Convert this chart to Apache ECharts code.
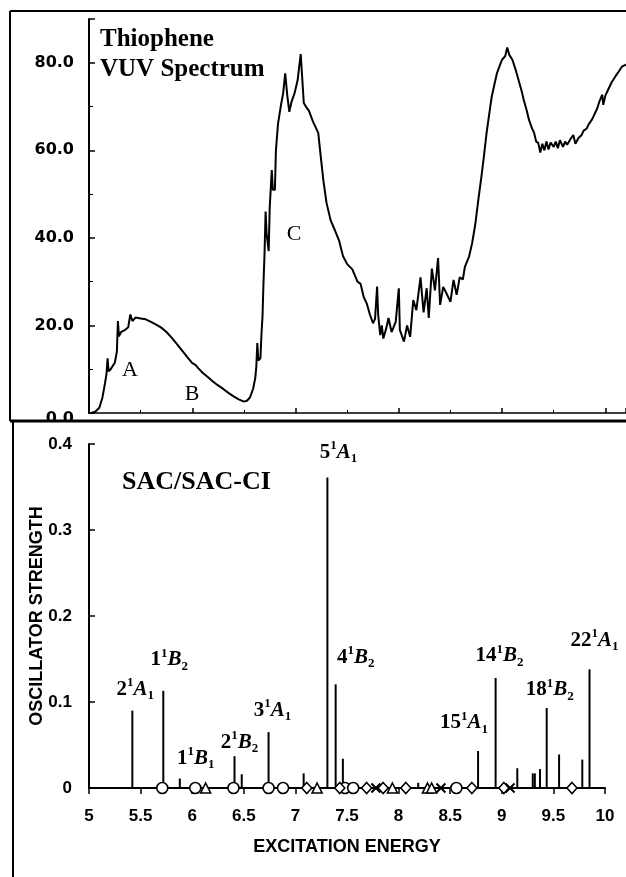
<!DOCTYPE html>
<html>
<head>
<meta charset="utf-8">
<script src="https://cdn.jsdelivr.net/npm/echarts@6.0.0/dist/echarts.min.js"></script>
<style>
  html, body { margin: 0; padding: 0; background: #fff; }
  #chart { width: 626px; height: 877px; }
</style>
</head>
<body>
<div id="chart"></div>
<script>
// VUV absorption spectrum (top panel)
const specE = [5.02, 5.06, 5.10, 5.13, 5.155, 5.17, 5.18, 5.19, 5.21, 5.25, 5.27, 5.28, 5.29, 5.31, 5.35, 5.38, 5.40, 5.42, 5.45, 5.50,
  5.55, 5.60, 5.65, 5.70, 5.75, 5.80, 5.85, 5.90, 5.95, 6.00, 6.03, 6.06, 6.10, 6.15, 6.20, 6.25, 6.30, 6.35, 6.40, 6.45,
  6.50, 6.53, 6.56, 6.59, 6.61, 6.62, 6.63, 6.64, 6.66, 6.67, 6.68, 6.69, 6.70, 6.71, 6.72, 6.74, 6.75, 6.77, 6.78, 6.80,
  6.81, 6.83, 6.86, 6.88, 6.90, 6.92, 6.94, 6.96, 6.99, 7.02, 7.05, 7.08, 7.10, 7.13, 7.17, 7.22, 7.24, 7.27, 7.30, 7.34,
  7.38, 7.42, 7.46, 7.50, 7.55, 7.60, 7.63, 7.66, 7.69, 7.72, 7.75, 7.77, 7.79, 7.80, 7.82, 7.835, 7.85, 7.88, 7.90, 7.93,
  7.97, 8.00, 8.01, 8.05, 8.08, 8.11, 8.14, 8.17, 8.21, 8.24, 8.27, 8.29, 8.32, 8.35, 8.38, 8.40, 8.43, 8.46, 8.50, 8.53,
  8.56, 8.59, 8.62, 8.64, 8.68, 8.71, 8.74, 8.77, 8.80, 8.82, 8.85, 8.88, 8.90, 8.93, 8.95, 8.98, 9.00, 9.03, 9.05, 9.07,
  9.10, 9.13, 9.16, 9.19, 9.21, 9.24, 9.26, 9.29, 9.31, 9.33, 9.35, 9.37, 9.39, 9.41, 9.43, 9.45, 9.47, 9.50, 9.52, 9.54,
  9.56, 9.59, 9.61, 9.63, 9.66, 9.69, 9.71, 9.74, 9.77, 9.79, 9.82, 9.84, 9.87, 9.89, 9.92, 9.94, 9.97, 9.98, 10.00, 10.03,
  10.06, 10.10, 10.13, 10.16, 10.20];
const specV = [0, 0.3, 1.2, 3.5, 6.8, 9, 12.5, 9.5, 10, 11.5, 14, 21, 17.5, 18.5, 19, 19.6, 22.5, 21, 21.8, 21.6,
  21.4, 20.8, 20.2, 19.5, 18.5, 17.2, 15.8, 14.3, 12.8, 11.4, 11, 10.2, 9.2, 8.2, 7.2, 6.3, 5.5, 4.6, 3.8, 3.1,
  2.6, 2.8, 3.6, 5.6, 8, 10.5, 16, 12, 12.5, 18, 22, 30, 36.5, 46, 41, 37, 47, 55.5, 51, 51,
  60, 66, 70.5, 73, 77.6, 72.5, 68.8, 71, 73, 76, 82, 70.8, 70, 69, 66.5, 64, 59.5, 53, 48, 44,
  41.8, 39.5, 35.8, 34, 32.8, 30, 29.5, 26.5, 25, 22.5, 20.5, 21.5, 28.9, 22.5, 17.8, 20, 17, 19.5, 21.7, 18.5,
  20.8, 28.5, 19, 16.3, 20, 17.4, 25.8, 23.5, 31, 23, 28.5, 21.7, 33, 28, 35.4, 24.7, 28.8, 27.4, 25.4, 30.4,
  27, 31, 30.5, 33.4, 35.7, 38.8, 43, 48.7, 54, 57.8, 64, 69, 72.3, 75.5, 77.6, 79.5, 80.7, 81.5, 83.5, 81.8,
  80.7, 78.5, 76, 73.5, 71.5, 69, 67, 65, 64, 62, 61.7, 59.5, 61.5, 60, 62, 60.2, 61.8, 60.8, 62, 60.5,
  62.3, 60.8, 62, 61.3, 62.5, 63.5, 61.5, 62.8, 63.5, 64.5, 65, 66, 67, 68, 69.5, 71, 72.7, 70.4, 72.5, 74,
  75.5, 77, 78, 79.1, 79.6];

// SAC/SAC-CI oscillator strengths (bottom panel)
const stickE = [5.42, 5.72, 5.88, 6.41, 6.48, 6.74, 7.08, 7.31, 7.39, 7.46, 8.19, 8.77, 8.94, 9.15, 9.30, 9.32, 9.37, 9.435, 9.555, 9.78, 9.85];
const stickF = [0.090, 0.113, 0.011, 0.037, 0.016, 0.065, 0.017, 0.361, 0.1205, 0.034, 0.006, 0.043, 0.128, 0.023, 0.017, 0.017, 0.022, 0.093, 0.039, 0.033, 0.138];

// forbidden / zero-strength states on the baseline
const circleE = [5.71, 6.03, 6.40, 6.74, 6.88, 7.48, 7.56, 8.56];
const triangleE = [6.13, 7.21, 7.94, 8.28, 8.32];
const diamondE = [7.11, 7.43, 7.69, 7.85, 8.07, 8.71, 9.02, 9.68];
const crossE = [7.78, 8.41, 9.08];

// state labels: n^1 X_sub, attached to a stick
const stateNum = ['2', '1', '1', '2', '3', '5', '4', '15', '14', '18', '22'];
const stateSym = ['A', 'B', 'B', 'B', 'A', 'A', 'B', 'A', 'B', 'B', 'A'];
const stateSub = ['1', '2', '1', '2', '1', '1', '2', '1', '2', '2', '1'];
const stateStick = [0, 1, 2, 3, 5, 7, 8, 11, 12, 17, 20];

const serif = 'Liberation Serif';
const sans = 'Liberation Sans';

const myChart = echarts.init(document.getElementById('chart'), null, { renderer: 'canvas' });

// label placement (px from stick top), layout only
const labelShift = [[3, -21], [6, -31], [16, -20], [5, -14], [4, -22], [11, -25], [20, -27], [-14, -28], [4, -22], [3, -18], [5, -29]];

const labelData = stateStick.map(function (k, i) {
  return {
    value: [stickE[k], stickF[k]],
    label: {
      offset: labelShift[i],
      formatter: '{n|' + stateNum[i] + '}{s|1}{l|' + stateSym[i] + '}{b|' + stateSub[i] + '}'
    }
  };
});

const toXY = function (arr) {
  return arr.map(function (e) { return [e, 0]; });
};

const markerStyle = { color: '#fff', borderColor: '#000', borderWidth: 1.6, opacity: 1 };

const option = {
  backgroundColor: '#fff',
  animation: false,
  grid: [
    { left: 89, right: 0, top: 19, height: 394, outerBoundsMode: 'none', containLabel: false },
    { left: 89, width: 516, top: 444, height: 344, outerBoundsMode: 'none', containLabel: false }
  ],
  xAxis: [
    {
      gridIndex: 0, type: 'value', min: 5, max: 10.2, interval: 1,
      axisLine: { lineStyle: { color: '#000', width: 1.5 } },
      axisTick: { inside: true, length: 5, lineStyle: { color: '#000', width: 1.5 } },
      minorTick: { show: true, splitNumber: 2, length: 3, lineStyle: { color: '#000' } },
      axisLabel: { show: false },
      splitLine: { show: false }
    },
    {
      gridIndex: 1, type: 'value', min: 5, max: 10, interval: 0.5,
      name: 'EXCITATION ENERGY', nameLocation: 'middle', nameGap: 50,
      nameTextStyle: { fontFamily: sans, fontWeight: 'bold', fontSize: 18, color: '#000' },
      axisLine: { lineStyle: { color: '#000', width: 2 } },
      axisTick: { inside: false, length: 6, lineStyle: { color: '#000', width: 1.5 } },
      axisLabel: { margin: 20, fontFamily: sans, fontWeight: 'bold', fontSize: 17, color: '#000' },
      splitLine: { show: false }
    }
  ],
  yAxis: [
    {
      gridIndex: 0, type: 'value', min: 0, max: 90, interval: 20,
      axisLine: { show: true, lineStyle: { color: '#000', width: 2 } },
      axisTick: { show: true, inside: true, length: 6, lineStyle: { color: '#000', width: 1.5 } },
      minorTick: { show: true, splitNumber: 2, length: 4, lineStyle: { color: '#000' } },
      axisLabel: {
        margin: 15, fontFamily: 'DejaVu Sans', fontWeight: 'bold', fontSize: 16, color: '#000',
        formatter: function (v) {
          if (v === 0) return '{z|0.0}';
          return v % 20 === 0 ? v.toFixed(1) : '';
        },
        rich: { z: { fontFamily: 'DejaVu Sans', fontWeight: 'bold', fontSize: 16, padding: [12, 0, 0, 0] } }
      },
      splitLine: { show: false }
    },
    {
      gridIndex: 1, type: 'value', min: 0, max: 0.4, interval: 0.1,
      name: 'OSCILLATOR STRENGTH', nameLocation: 'middle', nameGap: 43, nameRotate: 90,
      nameMoveOverlap: false,
      nameTextStyle: { fontFamily: sans, fontWeight: 'bold', fontSize: 18, color: '#000' },
      axisLine: { show: true, lineStyle: { color: '#000', width: 2 } },
      axisTick: { show: true, inside: true, length: 6, lineStyle: { color: '#000', width: 1.5 } },
      axisLabel: { margin: 17, fontFamily: sans, fontWeight: 'bold', fontSize: 17, color: '#000' },
      splitLine: { show: false }
    }
  ],
  series: [
    {
      type: 'line', xAxisIndex: 0, yAxisIndex: 0,
      data: specE.map(function (e, i) { return [e, specV[i]]; }),
      symbol: 'none', clip: true,
      lineStyle: { color: '#000', width: 2 }
    },
    {
      type: 'custom', xAxisIndex: 1, yAxisIndex: 1,
      data: stickE.map(function (e, i) { return [e, stickF[i]]; }),
      renderItem: function (params, api) {
        const p0 = api.coord([api.value(0), 0]);
        const p1 = api.coord([api.value(0), api.value(1)]);
        return {
          type: 'line',
          shape: { x1: p0[0], y1: p0[1], x2: p1[0], y2: p1[1] },
          style: { stroke: '#000', lineWidth: 2 }
        };
      },
      z: 3
    },
    {
      type: 'scatter', xAxisIndex: 1, yAxisIndex: 1, data: toXY(circleE),
      symbol: 'circle', symbolSize: 11, itemStyle: markerStyle, z: 4
    },
    {
      type: 'scatter', xAxisIndex: 1, yAxisIndex: 1, data: toXY(triangleE),
      symbol: 'triangle', symbolSize: 10, itemStyle: markerStyle, z: 4
    },
    {
      type: 'scatter', xAxisIndex: 1, yAxisIndex: 1, data: toXY(diamondE),
      symbol: 'diamond', symbolSize: [10, 11], itemStyle: markerStyle, z: 4
    },
    {
      type: 'scatter', xAxisIndex: 1, yAxisIndex: 1, data: toXY(crossE),
      symbol: 'path://M0,0L10,10M10,0L0,10', symbolSize: 9,
      itemStyle: { color: 'transparent', borderColor: '#000', borderWidth: 2, opacity: 1 }, z: 4
    },
    {
      type: 'scatter', xAxisIndex: 1, yAxisIndex: 1, data: labelData,
      symbolSize: 0, silent: true, z: 5,
      itemStyle: { opacity: 1 },
      label: {
        show: true, position: 'inside', color: '#000', opacity: 1,
        rich: {
          n: { fontFamily: serif, fontWeight: 'bold', fontSize: 21, lineHeight: 26, color: '#000' },
          s: { fontFamily: serif, fontWeight: 'bold', fontSize: 13, lineHeight: 16, verticalAlign: 'top', color: '#000' },
          l: { fontFamily: serif, fontWeight: 'bold', fontStyle: 'italic', fontSize: 21, lineHeight: 26, color: '#000' },
          b: { fontFamily: serif, fontWeight: 'bold', fontSize: 13, lineHeight: 14, verticalAlign: 'bottom', color: '#000' }
        }
      }
    }
  ],
  graphic: [
    // panel frames
    { type: 'line', z: 100, shape: { x1: 10, y1: 11, x2: 626, y2: 11 }, style: { stroke: '#000', lineWidth: 2 } },
    { type: 'line', z: 100, shape: { x1: 10, y1: 11, x2: 10, y2: 421 }, style: { stroke: '#000', lineWidth: 2 } },
    { type: 'rect', z: 99, shape: { x: 0, y: 421, width: 88, height: 14 }, style: { fill: '#fff' } },
    { type: 'line', z: 100, shape: { x1: 10, y1: 421, x2: 626, y2: 421 }, style: { stroke: '#000', lineWidth: 3 } },
    { type: 'line', z: 100, shape: { x1: 13, y1: 421, x2: 13, y2: 877 }, style: { stroke: '#000', lineWidth: 2 } },
    // captions
    {
      type: 'text', left: 100, top: 25, z: 10,
      style: { text: 'Thiophene\nVUV Spectrum', fontFamily: serif, fontWeight: 'bold', fontSize: 25, lineHeight: 30, fill: '#000' }
    },
    {
      type: 'text', left: 122, top: 469, z: 10,
      style: { text: 'SAC/SAC-CI', fontFamily: serif, fontWeight: 'bold', fontSize: 26, lineHeight: 26, fill: '#000' }
    },
    { type: 'text', x: 130, y: 370, z: 10, style: { text: 'A', fontFamily: serif, fontSize: 22, fill: '#000', align: 'center', verticalAlign: 'middle' } },
    { type: 'text', x: 192, y: 394, z: 10, style: { text: 'B', fontFamily: serif, fontSize: 22, fill: '#000', align: 'center', verticalAlign: 'middle' } },
    { type: 'text', x: 294, y: 234, z: 10, style: { text: 'C', fontFamily: serif, fontSize: 22, fill: '#000', align: 'center', verticalAlign: 'middle' } }
  ]
};

myChart.setOption(option);
window.addEventListener('resize', function () { myChart.resize(); });
</script>
</body>
</html>
